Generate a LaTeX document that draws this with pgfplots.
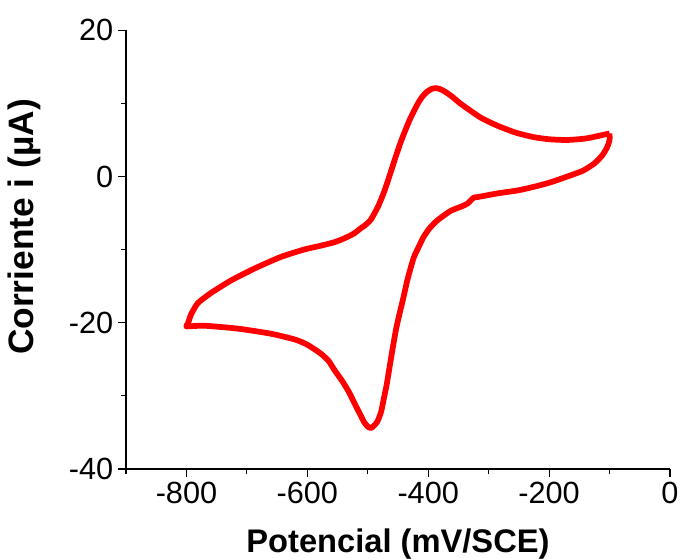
\documentclass[border=0pt]{standalone}
\usepackage{fontspec}
\setmainfont{Liberation Sans}
\usepackage{pgfplots}
\pgfplotsset{compat=1.18}

\begin{document}
\begin{tikzpicture}
\begin{axis}[
  scale only axis,
  width=408pt, height=329pt,
  xmin=-900, xmax=0, ymin=-40, ymax=20,
  axis x line*=bottom, axis y line*=left,
  axis line style={line width=0.9pt},
  xtick={-800,-600,-400,-200,0},
  minor xtick={-900,-700,-500,-300,-100},
  ytick={-40,-20,0,20},
  minor ytick={-30,-10,10},
  tick align=outside,
  major tick length=6pt, minor tick length=4pt,
  tick style={line width=0.9pt, black},
  /pgf/number format/assume math mode=true,
  /pgf/number format/1000 sep={},
  tick label style={font=\fontsize{23}{26}\selectfont},
  xlabel={Potencial (mV/SCE)},
  ylabel={Corriente i (µA)},
  xlabel style={font=\bfseries\fontsize{24.5}{28}\selectfont, yshift=-12pt},
  ylabel style={font=\bfseries\fontsize{26.5}{30}\selectfont, yshift=14pt, xshift=17pt},
  clip=false,
]
% cyclic voltammogram, one closed sweep
\addplot[red, line width=4.3pt, line join=round, smooth, tension=0.35] coordinates {
  (-100,5.9) (-116,5.6) (-140,5.2) (-170,5.0) (-200,5.1) (-226,5.4)
  (-255,6.0) (-281,6.8) (-300,7.5) (-314,8.1) (-330,9.0) (-347,10.0)
  (-360,10.9) (-372,11.6) (-380,11.95) (-387,12.1) (-394,12.0) (-402,11.6)
  (-410,10.9) (-417,10.0) (-424,8.9) (-431,7.7) (-438,6.3) (-446,4.6)
  (-455,2.4) (-464,0.1) (-473,-2.1) (-483,-4.1) (-495,-5.9) (-505,-6.7)
  (-512,-7.1) (-523,-7.8) (-540,-8.5) (-556,-9.0) (-580,-9.5) (-606,-10.0)
  (-644,-11.0) (-688,-12.6) (-726,-14.2) (-759,-15.9) (-781,-17.3)
  (-792,-18.8) (-798,-20.2) (-800,-20.5)
  (-771,-20.4) (-715,-20.8) (-660,-21.5) (-620,-22.3) (-600,-23.0)
  (-578,-24.2) (-565,-25.2) (-554,-26.6) (-542,-28.0) (-531,-29.5)
  (-522,-31.0) (-514,-32.3) (-506,-33.6) (-500,-34.2) (-495,-34.4)
  (-490,-34.1) (-484,-33.5) (-478,-32.2) (-474,-30.6) (-469,-28.6)
  (-465,-26.6) (-459,-23.6) (-453,-20.8) (-447,-18.6) (-442,-16.9)
  (-434,-14.0) (-424,-11.1) (-415,-9.5) (-408,-8.3) (-398,-7.1)
  (-385,-6.0) (-363,-4.7) (-345,-4.1) (-335,-3.7) (-325,-2.9) (-318,-2.8)
  (-285,-2.3) (-252,-1.9) (-225,-1.4) (-198,-0.8) (-170,0.0) (-144,0.8)
  (-125,1.8) (-112,2.9) (-104,4.0) (-100,5.0) (-100,5.9)
};
\coordinate (ll) at (rel axis cs:0,0);
\end{axis}
\pgfresetboundingbox
\path (ll) ++(-94.5pt,-67.5pt) rectangle ++(512.25pt,419.25pt);
\end{tikzpicture}
\end{document}
